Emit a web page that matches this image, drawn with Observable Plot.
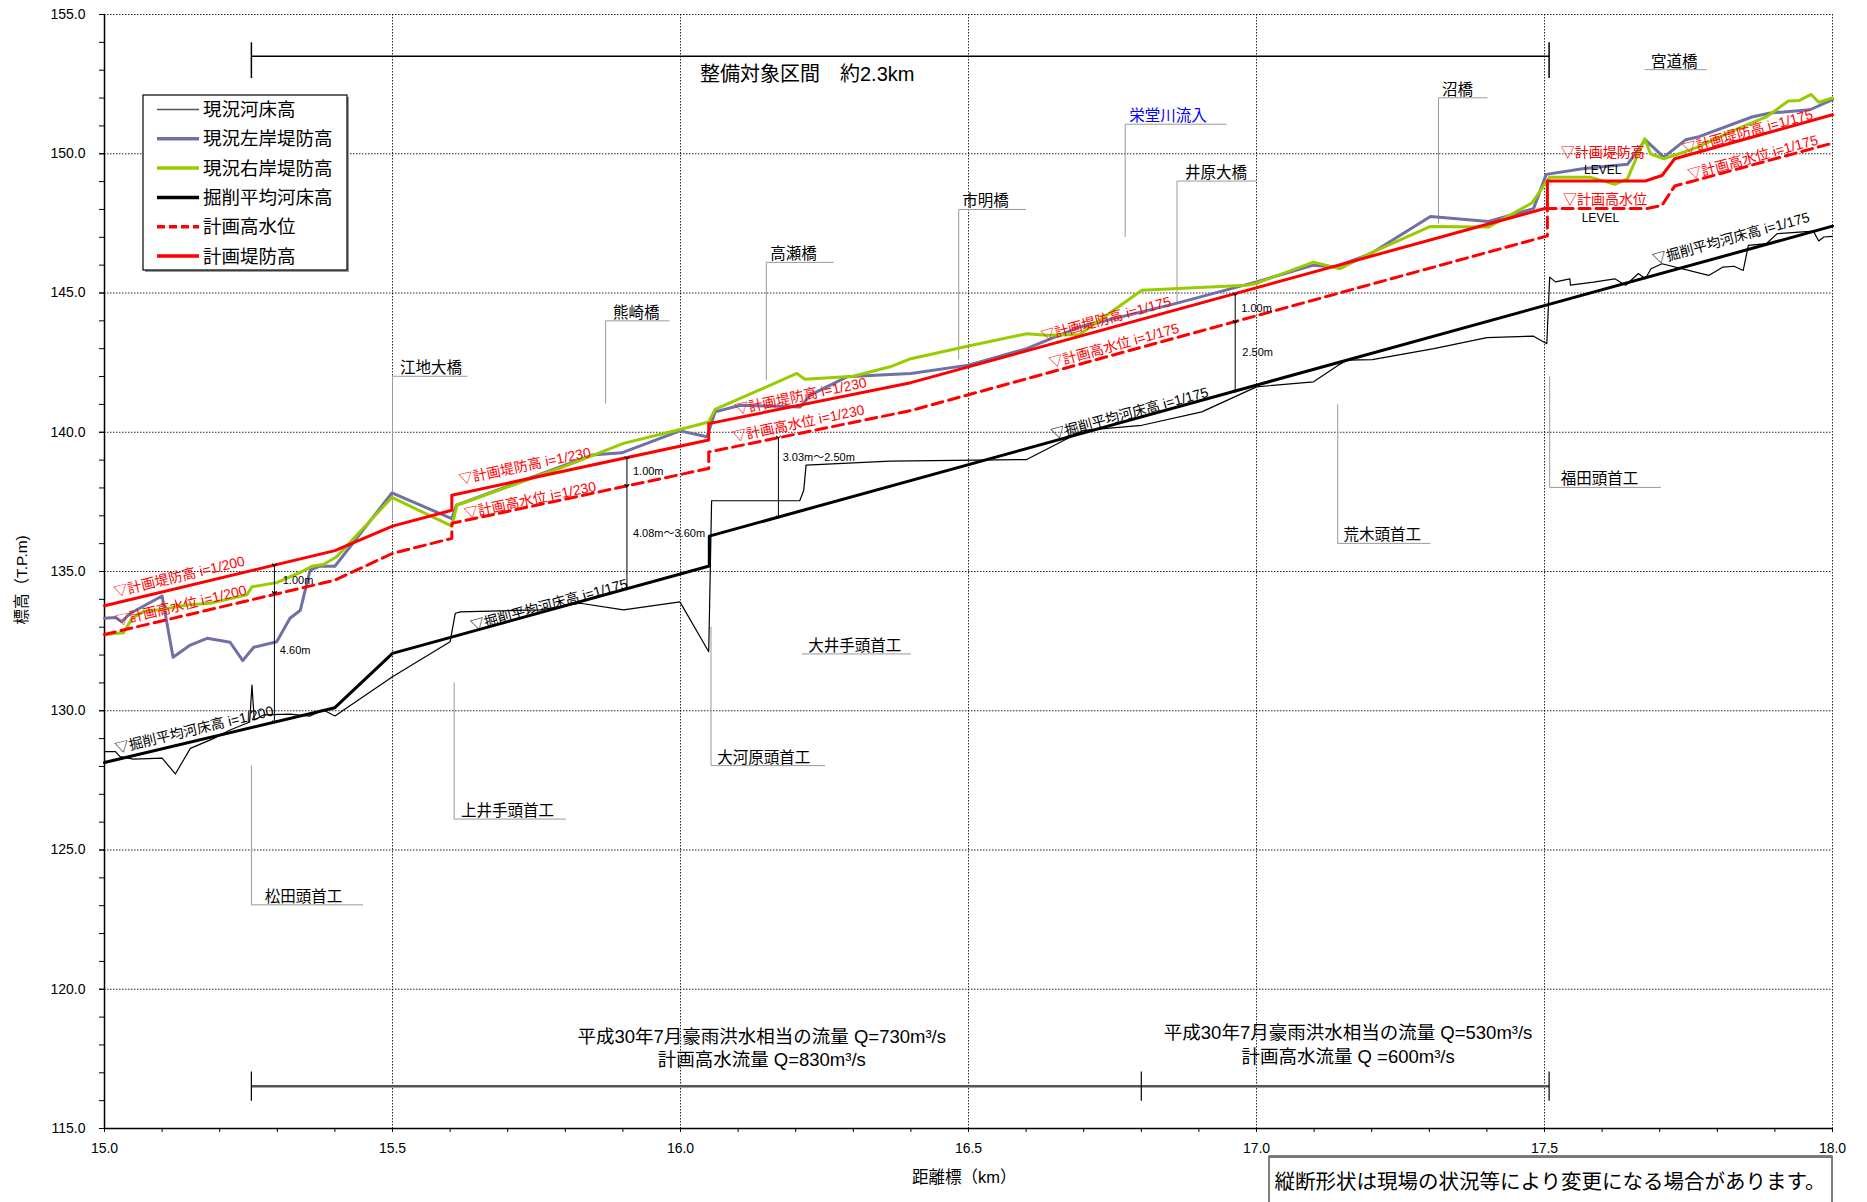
<!DOCTYPE html>
<html><head><meta charset="utf-8">
<script src="https://cdn.jsdelivr.net/npm/d3@7"></script>
<script src="https://cdn.jsdelivr.net/npm/@observablehq/plot@0.6"></script>
<style>
body{margin:0;background:#fff}
svg{font-family:"Liberation Sans","Noto Sans CJK JP",sans-serif}
</style>
</head><body><div id="chart"></div>
<script>
// ---------- DATA ----------
// 現況河床高 (current riverbed)
const curBedKm = [15.000,15.019,15.027,15.050,15.100,15.123,15.149,15.189,15.218,15.247,15.252,15.256,15.260,15.276,15.322,15.357,15.380,15.400,15.500,15.600,15.609,15.618,15.756,15.826,15.901,15.999,16.049,16.054,16.207,16.214,16.218,16.364,16.601,16.700,16.801,16.905,17.000,17.099,17.142,17.157,17.201,17.308,17.400,17.481,17.504,17.509,17.519,17.544,17.545,17.585,17.622,17.641,17.663,17.675,17.685,17.704,17.785,17.810,17.829,17.845,17.854,17.885,17.904,17.967,17.976,17.985,18.000];
const curBedEl = [128.53,128.53,128.35,128.26,128.30,127.73,128.65,129.00,129.31,129.55,129.60,130.92,129.67,129.85,129.88,129.81,130.03,129.81,131.22,132.48,133.50,133.55,133.62,133.86,133.62,133.91,132.12,137.54,137.54,137.92,138.82,138.96,139.02,140.07,140.25,140.73,141.63,141.81,142.41,142.59,142.61,143.00,143.40,143.45,143.18,145.57,145.40,145.51,145.28,145.39,145.51,145.28,145.70,145.51,145.87,146.05,145.63,145.93,145.96,145.81,146.71,146.77,147.13,147.22,146.87,147.01,147.03];
// 現況左岸堤防高 (left levee)
const leftKm = [15.000,15.019,15.030,15.045,15.100,15.119,15.149,15.178,15.218,15.240,15.259,15.299,15.322,15.340,15.357,15.374,15.400,15.499,15.603,15.611,15.791,15.846,15.898,15.999,16.046,16.060,16.104,16.208,16.225,16.289,16.364,16.400,16.500,16.601,16.693,16.859,17.000,17.099,17.136,17.198,17.302,17.403,17.481,17.503,17.566,17.644,17.675,17.707,17.745,17.766,17.860,17.892,17.961,18.000];
const leftEl = [133.32,133.35,133.20,133.50,134.12,131.92,132.36,132.60,132.46,131.80,132.28,132.48,133.32,133.61,135.05,135.19,135.19,137.82,136.90,137.38,138.76,139.18,139.26,140.05,139.84,140.73,140.97,140.91,141.33,141.99,142.07,142.11,142.41,143.00,143.78,144.62,145.40,146.00,145.93,146.41,147.75,147.57,148.03,149.26,149.46,149.62,150.50,149.88,150.50,150.60,151.32,151.46,151.58,151.94];
// 現況右岸堤防高 (right levee)
const rightKm = [15.000,15.033,15.048,15.068,15.100,15.143,15.183,15.247,15.256,15.299,15.340,15.360,15.380,15.403,15.499,15.603,15.612,15.797,15.901,15.999,16.049,16.060,16.202,16.216,16.300,16.364,16.400,16.500,16.601,16.636,16.693,16.752,16.801,16.983,17.000,17.099,17.145,17.198,17.302,17.403,17.478,17.509,17.579,17.622,17.644,17.674,17.684,17.707,17.742,17.766,17.829,17.885,17.923,17.942,17.963,17.976,18.000];
const rightEl = [132.74,132.80,133.32,133.56,133.64,133.80,133.86,134.16,134.45,134.60,134.97,135.19,135.25,135.53,137.66,136.63,137.38,138.76,139.60,140.10,140.37,140.82,142.11,141.90,142.01,142.35,142.64,143.10,143.54,143.48,143.51,144.38,145.10,145.28,145.35,146.11,145.87,146.43,147.39,147.37,148.23,149.16,149.16,148.90,149.10,150.54,150.00,149.82,150.06,150.24,150.84,151.32,151.89,151.91,152.13,151.85,152.00];
// 掘削平均河床高 (planned excavation bed)
const excKm = [15.00,15.40,15.50,16.05,16.05,18.00];
const excEl = [128.14,130.11,132.06,135.20,136.27,147.40];
// 計画高水位 (design high water level)
const hwlKm = [15.000,15.400,15.500,15.603,15.603,16.049,16.049,16.400,17.505,17.505,17.677,17.704,17.726,18.000];
const hwlEl = [132.74,134.69,135.65,136.19,136.73,138.70,139.29,140.78,147.05,148.03,148.03,148.15,148.84,150.38];
// 計画堤防高 (design levee height)
const levKm = [15.000,15.400,15.500,15.603,15.603,16.049,16.049,16.400,17.505,17.505,17.675,17.704,17.726,18.000];
const levEl = [133.77,135.75,136.63,137.20,137.74,139.72,140.31,141.78,148.06,149.02,149.02,149.22,149.82,151.40];

// dimension arrows
const dimKm  = [15.295,15.295,15.907,15.907,16.170,16.963,16.963];
const dimTop = [135.24,134.24,139.08,138.08,139.83,144.96,143.96];
const dimBot = [134.24,129.60,138.08,134.38,136.96,143.96,141.48];
const dimText = ["1.00m","4.60m","1.00m","4.08m～3.60m","3.03m～2.50m","1.00m","2.50m"];
const dimTextKm = [15.336,15.331,15.944,15.980,16.240,17.000,17.002];
const dimTextEl = [134.69,132.16,138.58,136.37,139.08,144.44,142.87];

// slope labels
const slopeText = ["▽計画堤防高 i=1/200","▽計画高水位 i=1/200","▽掘削平均河床高 i=1/200",
  "▽計画堤防高 i=1/230","▽計画高水位 i=1/230","▽掘削平均河床高 i=1/175",
  "▽計画堤防高 i=1/230","▽計画高水位 i=1/230",
  "▽計画堤防高 i=1/175","▽計画高水位 i=1/175","▽掘削平均河床高 i=1/175",
  "▽計画堤防高 i=1/175","▽計画高水位 i=1/175","▽掘削平均河床高 i=1/175"];
const slopeKm = [15.130,15.133,15.156,15.730,15.739,15.772,16.209,16.205,16.739,16.753,16.780,17.853,17.862,17.824];
const slopeEl = [134.81,133.77,129.31,138.78,137.56,133.79,141.29,140.31,144.06,143.10,140.67,150.78,149.86,146.95];
const slopeI  = [200,200,200,230,230,175,230,230,175,175,175,175,175,175];
const slopeRed = [1,1,0,1,1,0,1,1,1,1,0,1,1,0];

// LEVEL labels
const levelText = ["▽計画堤防高","LEVEL","▽計画高水位","LEVEL"];
const levelKm = [17.601,17.601,17.605,17.597];
const levelEl = [150.06,149.40,148.36,147.70];
const levelRed = [1,0,1,0];

// structure labels (name, text-left km, underline elevation, underline x1/x2, leader end elevation)
const structName = ["江地大橋","熊崎橋","高瀬橋","市明橋","栄堂川流入","井原大橋","沼橋","宮道橋","松田頭首工","上井手頭首工","大河原頭首工","大井手頭首工","荒木頭首工","福田頭首工"];
const structTx = [15.513,15.883,16.156,16.489,16.779,16.876,17.322,17.685,15.278,15.619,16.064,16.222,17.151,17.528];
const structLy = [142.01,144.00,146.10,148.00,151.06,149.02,152.01,153.02,123.03,126.11,128.03,132.04,136.01,138.02];
const structX1 = [15.500,15.870,16.149,16.483,16.772,16.862,17.316,17.674,15.255,15.607,16.053,16.211,17.141,17.509];
const structX2 = [15.630,15.981,16.266,16.600,16.948,17.000,17.401,17.782,15.449,15.801,16.251,16.400,17.302,17.702];
const structV  = [136.84,141.03,141.87,142.61,147.01,144.62,147.49,null,128.03,131.02,133.02,null,141.01,142.01];
const structBlue = [0,0,0,0,1,0,0,0,0,0,0,0,0,0];

// brackets
const topBracket = {x1:15.255, x2:17.508, y:153.50, capHi:154.00, capLo:152.72};
const botBracket = {x1:15.255, x2:17.508, y:116.52, capHi:117.05, capLo:116.00, caps:[15.255,16.800,17.508]};
const topText = "整備対象区間　約2.3km";
const flowText = ["平成30年7月豪雨洪水相当の流量 Q=730m³/s","計画高水流量 Q=830m³/s","平成30年7月豪雨洪水相当の流量 Q=530m³/s","計画高水流量 Q =600m³/s"];
const flowKm = [16.141,16.141,17.159,17.159];
const flowEl = [118.30,117.47,118.42,117.56];

const yTicks = d3.range(115, 155.1, 5);
const xTicks = d3.range(15, 18.01, 0.5);

const legendNames = ["現況河床高","現況左岸堤防高","現況右岸堤防高","掘削平均河床高","計画高水位","計画堤防高"];

// ---------- STYLES ----------
const W = 1867, H = 1202, mL = 104, mR = 35, mT = 14, mB = 74;
const C_LEFT = "#6f70a6", C_RIGHT = "#99cc00", C_RED = "#ff0000";
const pxKm = (W - mL - mR) / 3, pxM = (H - mT - mB) / 40;
const ang = i => -Math.atan((1000 / i) * pxM / pxKm) * 180 / Math.PI;
const pts = (xs, ys) => xs.map((x, k) => ({x, y: ys[k]}));
const idx = n => d3.range(n);

const slopes = idx(slopeText.length).map(k => ({t: slopeText[k], x: slopeKm[k], y: slopeEl[k], r: ang(slopeI[k]), red: slopeRed[k]}));
const levels = idx(levelText.length).map(k => ({t: levelText[k], x: levelKm[k], y: levelEl[k], red: levelRed[k]}));
const structs = idx(structName.length).map(k => ({t: structName[k], tx: structTx[k], ly: structLy[k], x1: structX1[k], x2: structX2[k], v: structV[k], blue: structBlue[k]}));
const dims = idx(dimKm.length).map(k => ({x: dimKm[k], y1: dimTop[k], y2: dimBot[k]}));
const dimLabs = idx(dimText.length).map(k => ({t: dimText[k], x: dimTextKm[k], y: dimTextEl[k]}));
const flows = idx(flowText.length).map(k => ({t: flowText[k], x: flowKm[k], y: flowEl[k]}));

const gridStyle = {stroke: "#000", strokeOpacity: 0.85, strokeWidth: 1, strokeDasharray: "1.5,1.5"};

const chart = Plot.plot({
  width: W, height: H,
  marginLeft: mL, marginRight: mR, marginTop: mT, marginBottom: mB,
  x: {domain: [15, 18]},
  y: {domain: [115, 155]},
  style: {fontSize: "14px", background: "#fff", color: "#000"},
  marks: [
    Plot.ruleY(yTicks.filter(v => v > 115), {y: d => d, ...gridStyle}),
    Plot.ruleX(xTicks.filter(v => v > 15), {x: d => d, ...gridStyle}),
    Plot.axisY({ticks: d3.range(115, 155.1, 1), tickSize: 5, tickFormat: () => "", label: null}),
    Plot.axisY({ticks: yTicks, tickSize: 5, tickPadding: 14, tickFormat: d => d.toFixed(1), fontSize: 14, label: null}),
    Plot.axisX({ticks: d3.range(15, 18.001, 0.1), tickSize: 4, tickFormat: () => "", label: null}),
    Plot.axisX({ticks: xTicks, tickSize: 4, tickPadding: 11, tickFormat: d => d.toFixed(1), fontSize: 14, label: null}),
    Plot.ruleX([15], {stroke: "#000", strokeWidth: 1.5}),
    Plot.ruleY([115], {stroke: "#000", strokeWidth: 1.5}),

    // structure leader lines and labels
    Plot.link(structs, {x1: "x1", x2: "x2", y1: "ly", y2: "ly", stroke: "#9a9a9a", strokeWidth: 1}),
    Plot.link(structs.filter(d => d.v != null), {x1: "x1", x2: "x1", y1: "ly", y2: "v", stroke: "#9a9a9a", strokeWidth: 1}),
    Plot.text(structs.filter(d => !d.blue), {x: "tx", y: "ly", text: "t", textAnchor: "start", lineAnchor: "bottom", dy: -3, fontSize: 15.5, fill: "#000"}),
    Plot.text(structs.filter(d => d.blue), {x: "tx", y: "ly", text: "t", textAnchor: "start", lineAnchor: "bottom", dy: -3, fontSize: 15.5, fill: "#0000ff"}),

    // data lines
    Plot.line(pts(curBedKm, curBedEl), {x: "x", y: "y", stroke: "#000", strokeWidth: 1.2}),
    Plot.line(pts(leftKm, leftEl), {x: "x", y: "y", stroke: C_LEFT, strokeWidth: 3}),
    Plot.line(pts(rightKm, rightEl), {x: "x", y: "y", stroke: C_RIGHT, strokeWidth: 3}),
    Plot.line(pts(excKm, excEl), {x: "x", y: "y", stroke: "#000", strokeWidth: 3}),
    Plot.line(pts(hwlKm, hwlEl), {x: "x", y: "y", stroke: C_RED, strokeWidth: 3, strokeDasharray: "11,6"}),
    Plot.line(pts(levKm, levEl), {x: "x", y: "y", stroke: C_RED, strokeWidth: 3}),

    // dimension arrows
    Plot.link(dims, {x1: "x", x2: "x", y1: "y1", y2: "y2", stroke: "#000", strokeWidth: 1, markerStart: "arrow", markerEnd: "arrow"}),
    Plot.text(dimLabs, {x: "x", y: "y", text: "t", fontSize: 11, fill: "#000"}),

    // slope labels
    Plot.text(slopes.filter(d => d.red), {x: "x", y: "y", text: "t", rotate: "r", fontSize: 14, fill: C_RED}),
    Plot.text(slopes.filter(d => !d.red), {x: "x", y: "y", text: "t", rotate: "r", fontSize: 14, fill: "#000"}),
    Plot.text(levels.filter(d => d.red), {x: "x", y: "y", text: "t", fontSize: 14, fill: C_RED}),
    Plot.text(levels.filter(d => !d.red), {x: "x", y: "y", text: "t", fontSize: 12, fill: "#000"}),

    // top bracket
    Plot.link([topBracket], {x1: "x1", x2: "x2", y1: "y", y2: "y", stroke: "#000", strokeWidth: 1.5}),
    Plot.link([topBracket.x1, topBracket.x2], {x1: d => d, x2: d => d, y1: () => topBracket.capHi, y2: () => topBracket.capLo, stroke: "#000", strokeWidth: 1.5}),
    Plot.text([topText], {x: () => 16.22, y: () => 152.85, text: d => d, fontSize: 20, fill: "#000"}),

    // bottom bracket
    Plot.link([botBracket], {x1: "x1", x2: "x2", y1: "y", y2: "y", stroke: "#555", strokeWidth: 2.5}),
    Plot.link(botBracket.caps, {x1: d => d, x2: d => d, y1: () => botBracket.capHi, y2: () => botBracket.capLo, stroke: "#000", strokeWidth: 1.2}),
    Plot.text(flows, {x: "x", y: "y", text: "t", fontSize: 18.5, fill: "#000"}),

    // axis titles
    Plot.text(["標高（T.P.m)"], {x: () => 14.856, y: () => 134.7, text: d => d, rotate: -90, fontSize: 15.5, fill: "#000"}),
    Plot.text(["距離標（km）"], {x: () => 16.4925, y: () => 113.24, text: d => d, fontSize: 16.5, fill: "#000"})
  ]
});

// legend (inside the plot area) and note box
const svg = d3.select(chart);
const lg = svg.append("g").attr("text-anchor", "start");
lg.append("rect").attr("x", 145).attr("y", 97).attr("width", 204).attr("height", 175).attr("fill", "#999");
lg.append("rect").attr("x", 143).attr("y", 95).attr("width", 204).attr("height", 175)
  .attr("fill", "#fff").attr("stroke", "#000").attr("stroke-width", 1.2);
const legendStyles = [
  {stroke: "#555", w: 1.3, dash: null},
  {stroke: C_LEFT, w: 3.5, dash: null},
  {stroke: C_RIGHT, w: 3.5, dash: null},
  {stroke: "#000", w: 3.5, dash: null},
  {stroke: C_RED, w: 3.5, dash: "8,4"},
  {stroke: C_RED, w: 3.5, dash: null}
];
legendNames.forEach((name, k) => {
  const cy = 109.5 + k * 29.3;
  const s = legendStyles[k];
  const ln = lg.append("line").attr("x1", 157).attr("x2", 199).attr("y1", cy).attr("y2", cy)
    .attr("stroke", s.stroke).attr("stroke-width", s.w);
  if (s.dash) ln.attr("stroke-dasharray", s.dash);
  lg.append("text").attr("x", 203).attr("y", cy + 6.5).attr("text-anchor", "start")
    .attr("font-size", 18.5).attr("fill", "#000").text(name);
});

const nb = svg.append("g");
nb.append("rect").attr("x", 1269).attr("y", 1156).attr("width", 563).attr("height", 60)
  .attr("fill", "#fff").attr("stroke", "#000").attr("stroke-width", 1);
nb.append("line").attr("x1", 1269).attr("x2", 1832).attr("y1", 1157).attr("y2", 1157).attr("stroke", "#777").attr("stroke-width", 2);
nb.append("text").attr("x", 1550).attr("y", 1189).attr("text-anchor", "middle").attr("font-size", 20.5)
  .attr("fill", "#000").text("縦断形状は現場の状況等により変更になる場合があります。");

document.getElementById("chart").appendChild(chart);
</script>
</body></html>
